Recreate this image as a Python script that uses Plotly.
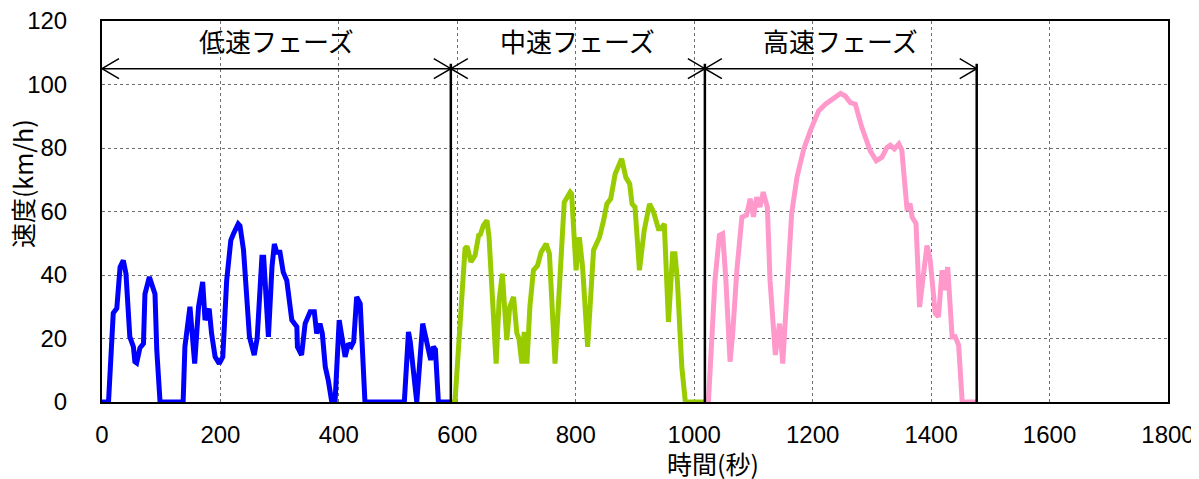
import plotly.graph_objects as go

# ---- data ----
t_low = [0, 11, 19, 25, 30.5, 36, 40.5, 44.5, 47, 53, 55.5, 58.5, 64, 70, 72.5, 80, 89.5, 92.5, 98,
         137, 140, 148.5, 156.5, 163, 170, 174, 181, 185, 191, 198, 204, 210.5, 217.5, 222, 230, 233,
         239, 249, 257, 262, 270, 273, 281, 287, 291, 295, 300.5, 306, 312, 320.5, 329, 330, 337, 343,
         351.5, 358.5, 362.5, 368, 372, 377, 382, 388, 393.5, 400.5, 410.5, 416, 421, 425, 430, 436, 444,
         510.5, 517.5, 520.5, 531.5, 541.5, 548, 555, 559.5, 563, 568, 589]
v_low = [0, 0, 28, 29.5, 42.5, 44.6, 40.4, 29, 20.5, 17.4, 12.7, 12.3, 17, 18.4, 34, 39.4, 34, 16.3, 0,
         0, 17.4, 30, 12.1, 30, 37.8, 25.8, 29.4, 21.6, 14.2, 12.1, 14.2, 38.3, 50.9, 53, 56.1, 55.5,
         47.8, 20.5, 14.8, 20, 45.6, 45.6, 20.5, 42.5, 49.8, 47.2, 47.2, 40.9, 38.3, 25.8, 23.7, 17.4, 14.8, 24.7,
         28.4, 28.4, 21.6, 24.7, 21.6, 11.1, 6.9, 0, 0, 25.8, 14.2, 18.4, 17.5, 19, 33.1, 31, 0,
         0, 22.1, 19, 0, 24.7, 18.4, 13.2, 17.4, 16.5, 0, 0]

t_mid = [589, 596, 613, 616.5, 623, 630, 636, 639, 644, 650, 653.5, 658, 665.5, 670.5, 676, 683.5, 688.5,
         695, 700.5, 704, 709, 713, 717.5, 722.5, 728.5, 735.5, 741.5, 750, 755.5, 765, 773.5, 780.5,
         790.5, 793, 800.5, 806, 811.5, 820, 830, 840, 847, 852.5, 859, 866.5, 877.5, 884.5, 891, 895,
         900, 907.5, 915.5, 924.5, 931, 939.5, 944, 949.5, 956.5, 963.5, 967.5, 971.5, 979, 985, 1018]
v_mid = [0, 0, 48.3, 49, 44.1, 46.2, 52.5, 52.8, 55.6, 57.2, 52, 38.3, 12.1, 32, 40.4, 19.5, 30,
         33.1, 21.6, 20, 12.1, 22.1, 12.1, 30, 41.5, 43, 47.2, 49.8, 46.7, 12.1, 42.5, 62.9,
         66.1, 65.5, 41.5, 51.9, 42.5, 17.4, 47.8, 51.9, 57.2, 62.4, 64, 71.8, 76.6, 70.8, 68.7, 62.4,
         61.4, 41.5, 54, 62.4, 60, 54.6, 54.6, 56.1, 25.2, 46.7, 46.7, 38.3, 11.1, 0, 0]

t_high = [1018, 1024, 1035, 1042.5, 1048, 1053.5, 1060.5, 1065, 1072, 1080.5, 1088.5, 1094.5, 1100, 1105.5,
          1111, 1116.5, 1123.5, 1128, 1137, 1144, 1149.5, 1156.5, 1164.5, 1173.5, 1185, 1196, 1210,
          1221.5, 1235, 1247, 1255, 1263.5, 1272, 1283, 1297, 1307.5, 1317, 1325.5, 1331, 1338, 1345.5,
          1350.5, 1359.5, 1364.5, 1368, 1374.5, 1380.5, 1385, 1393, 1398.5, 1407, 1412.5, 1418.5, 1422.5,
          1428, 1435.5, 1440.5, 1446.5, 1452.5, 1477]
v_high = [0, 0, 38.3, 52.5, 53, 38.3, 12.7, 21.6, 41.5, 58.2, 58.9, 64, 58.3, 64.5,
          61.4, 66.1, 61.4, 38.3, 14.8, 24.7, 12.1, 36.3, 59.3, 70.8, 79.7, 85.4, 91.7,
          93.8, 95.4, 97.2, 96.4, 94.3, 93.8, 86.5, 79.2, 76, 77.1, 80.2, 80.9, 79.7, 81.3,
          79.4, 60.3, 62.5, 58.2, 56.2, 29.9, 36.3, 49.3, 44.7, 27.9, 26.8, 41.5, 35.2,
          42.5, 20.5, 20.6, 17.9, 0, 0]

phase_bounds = [0, 589, 1018, 1477]
phase_labels = ["低速フェーズ", "中速フェーズ", "高速フェーズ"]
x_ticks = [0, 200, 400, 600, 800, 1000, 1200, 1400, 1600, 1800]
y_ticks = [0, 20, 40, 60, 80, 100, 120]

# ---- styles ----
JP = "Noto Sans CJK JP"
LAT = "Liberation Sans, Arial, sans-serif"
arrow_y = 105
divider_top = 106.5
label_y = 114

fig = go.Figure()
for t, v, c in [(t_low, v_low, "#0000FF"), (t_mid, v_mid, "#99CC00"), (t_high, v_high, "#FF99CC")]:
    fig.add_trace(go.Scatter(x=t, y=v, mode="lines", line=dict(color=c, width=5),
                             showlegend=False, hoverinfo="skip"))

shapes = []
for b in phase_bounds[1:]:
    shapes.append(dict(type="line", xref="x", yref="y", x0=b, x1=b, y0=0, y1=divider_top,
                       line=dict(color="black", width=2.5)))
annotations = []
for i, lab in enumerate(phase_labels):
    a, b = phase_bounds[i], phase_bounds[i + 1]
    shapes.append(dict(type="line", xref="x", yref="y", x0=a, x1=b, y0=arrow_y, y1=arrow_y,
                       line=dict(color="black", width=1.5)))
    shapes.append(dict(type="path", xref="x", yref="y", xsizemode="pixel", ysizemode="pixel",
                       xanchor=a, yanchor=arrow_y, path="M 17 10 L 0 0 L 17 -10",
                       line=dict(color="black", width=1.5)))
    shapes.append(dict(type="path", xref="x", yref="y", xsizemode="pixel", ysizemode="pixel",
                       xanchor=b, yanchor=arrow_y, path="M -17 10 L 0 0 L -17 -10",
                       line=dict(color="black", width=1.5)))
    annotations.append(dict(x=(a + b) / 2, y=label_y, xref="x", yref="y", text=lab, showarrow=False,
                            font=dict(family=JP, size=26, color="black"), xanchor="center", yanchor="middle"))

annotations.append(dict(x=0.573, y=-0.16, xref="paper", yref="paper", text="時間(秒)", showarrow=False,
                        font=dict(family=JP, size=25, color="black"), xanchor="center", yanchor="middle"))
annotations.append(dict(x=-0.075, y=0.572, xref="paper", yref="paper", text="速度(km/h)", showarrow=False,
                        textangle=-90, font=dict(family=JP, size=25, color="black"),
                        xanchor="center", yanchor="middle"))

# page body has an 8px default margin, so the figure is sized to sit inside the window
fig.update_layout(
    width=1191, height=471,
    margin=dict(l=94, r=31, t=13, b=77, autoexpand=False),
    paper_bgcolor="white", plot_bgcolor="white",
    shapes=shapes, annotations=annotations,
    xaxis=dict(range=[0, 1800], tickvals=x_ticks, showgrid=True, gridcolor="#6f6f6f", griddash="dot",
               gridwidth=1, showline=True, linecolor="black", linewidth=2, mirror=True, zeroline=False,
               automargin=False, ticklabeloverflow="allow",
               ticks="", ticklabelstandoff=10, tickfont=dict(family=LAT, size=24, color="black")),
    yaxis=dict(range=[0, 120], tickvals=y_ticks, showgrid=True, gridcolor="#6f6f6f", griddash="dot",
               gridwidth=1, showline=True, linecolor="black", linewidth=2, mirror=True, zeroline=False,
               automargin=False, ticklabeloverflow="allow",
               ticks="", ticklabelstandoff=28, tickfont=dict(family=LAT, size=24, color="black")),
)

fig.write_html("out.html")
